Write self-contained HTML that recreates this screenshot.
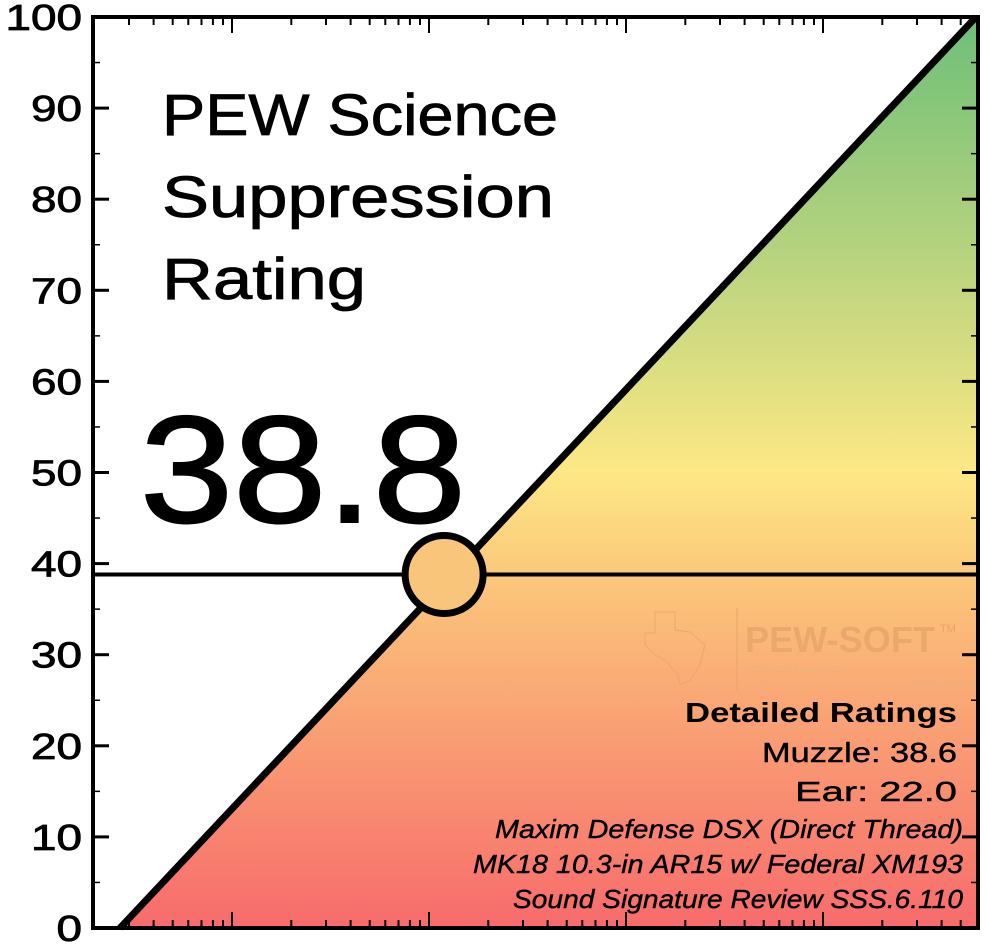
<!DOCTYPE html>
<html><head><meta charset="utf-8"><style>
html,body{margin:0;padding:0;background:#fff;}
svg{display:block;font-family:"Liberation Sans",sans-serif;}
</style></head><body>
<svg id="chart" width="986" height="945">
<defs>
<linearGradient id="grad" x1="0" y1="0" x2="0" y2="1">
<stop offset="0" stop-color="#6dbf78"/>
<stop offset="0.25" stop-color="#b4d27e"/>
<stop offset="0.5" stop-color="#fde885"/>
<stop offset="0.62" stop-color="#fbc67a"/>
<stop offset="1" stop-color="#f76b6b"/>
</linearGradient>
</defs>
<g id="plot"></g>
</svg>
<script>
const yTicks=[0,10,20,30,40,50,60,70,80,90,100];
const rating=[38.8];
const detailLabels=["Muzzle: 38.6","Ear: 22.0"];
const L=93,R=978,T=17,B=928;
const NS="http://www.w3.org/2000/svg";
const g=document.getElementById('plot');
function y(v){return B-(v/100)*(B-T);}
const x0=120,x1=976;
function diagX(v){return x0+(x1-x0)*v/100;}
function el(t,a,txt){const e=document.createElementNS(NS,t);for(const k in a)e.setAttribute(k,a[k]);if(txt!==undefined)e.textContent=txt;g.appendChild(e);return e;}
let e;
e=el('polygon',{points:`${x0},${y(0)} ${x1},${y(100)} ${R},${y(100)} ${R},${B}`,fill:'url(#grad)'});


// watermark
e=el('text',{x:745,y:652,'font-size':36,'font-weight':'bold',fill:'#e8a56a','opacity':0.8,textLength:190},'PEW-SOFT');


el('text',{x:940,y:632,'font-size':11,fill:'#e8a56a'},'TM');
el('text',{x:745,y:672,'font-size':8,fill:'#eab080'},'© 2020 PEW Science, LLC');
el('text',{x:972,y:688,'font-size':10,fill:'#eab080','text-anchor':'end'},'Version 1.0.2');
el('line',{x1:737,y1:608,x2:737,y2:690,stroke:'#e8a56a','stroke-width':1});
el('path',{d:'M655 612 L675 612 L675 630 L690 632 L705 645 L700 665 L690 680 L680 685 L678 675 L665 660 L655 655 L645 645 L645 633 L655 633 Z',fill:'none',stroke:'#e8a56a','stroke-width':1,opacity:0.8});
// axes frame
e=el('rect',{x:L,y:T,width:R-L,height:B-T,fill:'none',stroke:'#000','stroke-width':4});


// y ticks
yTicks.forEach(v=>{
 el('line',{x1:L,y1:y(v),x2:L+16,y2:y(v),stroke:'#000','stroke-width':3});
 el('line',{x1:R-16,y1:y(v),x2:R,y2:y(v),stroke:'#000','stroke-width':3});
 if(v<100){el('line',{x1:L,y1:y(v+5),x2:L+7,y2:y(v+5),stroke:'#000','stroke-width':1.5});
 el('line',{x1:R-7,y1:y(v+5),x2:R,y2:y(v+5),stroke:'#000','stroke-width':1.5});}
 const s=String(v);
 const t=el('text',{x:82,y:y(v)+13,'font-size':36,'text-anchor':'end',fill:'#000',stroke:'#000','stroke-width':0.8,textLength:s.length*25.5,lengthAdjust:'spacingAndGlyphs'},s);
 
 
});
// x log ticks
const dec=197,start=35;
for(let d=0;d<5;d++){for(let m=1;m<10;m++){const xx=start+dec*d+Math.log10(m)*dec;if(xx<=L+2||xx>=R-2)continue;const len=m==1?16:8;
 el('line',{x1:xx,y1:B,x2:xx,y2:B-len,stroke:'#000','stroke-width':2});
 el('line',{x1:xx,y1:T,x2:xx,y2:T+len,stroke:'#000','stroke-width':2});}}
// diagonal
e=el('line',{x1:x0,y1:y(0),x2:x1,y2:y(100),stroke:'#000','stroke-width':7});


// rating line
const rv=rating[0];
e=el('line',{x1:L,y1:y(rv),x2:R,y2:y(rv),stroke:'#000','stroke-width':4});


e=el('circle',{cx:diagX(rv)-8,cy:y(rv),r:39,fill:'#f8c57a',stroke:'#000','stroke-width':7});


// title
[['PEW Science',396],['Suppression',392],['Rating',204]].forEach((s,i)=>{
 const t=el('text',{x:162,y:135+i*82,'font-size':58,fill:'#000',stroke:'#000','stroke-width':0.8,textLength:s[1],lengthAdjust:'spacingAndGlyphs'},s[0]);
 
 
});
e=el('text',{x:140,y:522,'font-size':152,fill:'#000',stroke:'#000','stroke-width':2,textLength:326,lengthAdjust:'spacingAndGlyphs'},rv.toFixed(1));


// details
e=el('text',{x:957,y:722,'font-size':28,'font-weight':'bold','text-anchor':'end',textLength:272,lengthAdjust:'spacingAndGlyphs'},'Detailed Ratings');


const dw=[195,162];
detailLabels.forEach((s,i)=>{const t=el('text',{x:957,y:762+i*39,'font-size':28,'text-anchor':'end',stroke:'#000','stroke-width':0.4,textLength:dw[i],lengthAdjust:'spacingAndGlyphs'},s);
 
 });
[['Maxim Defense DSX (Direct Thread)',468],['MK18 10.3-in AR15 w/ Federal XM193',490],['Sound Signature Review SSS.6.110',450]].forEach((s,i)=>{
 const t=el('text',{x:963,y:838+i*35,'font-size':26,'font-style':'italic','text-anchor':'end',stroke:'#000','stroke-width':0.4,textLength:s[1],lengthAdjust:'spacingAndGlyphs'},s[0]);
 
 });
</script>
</body></html>
